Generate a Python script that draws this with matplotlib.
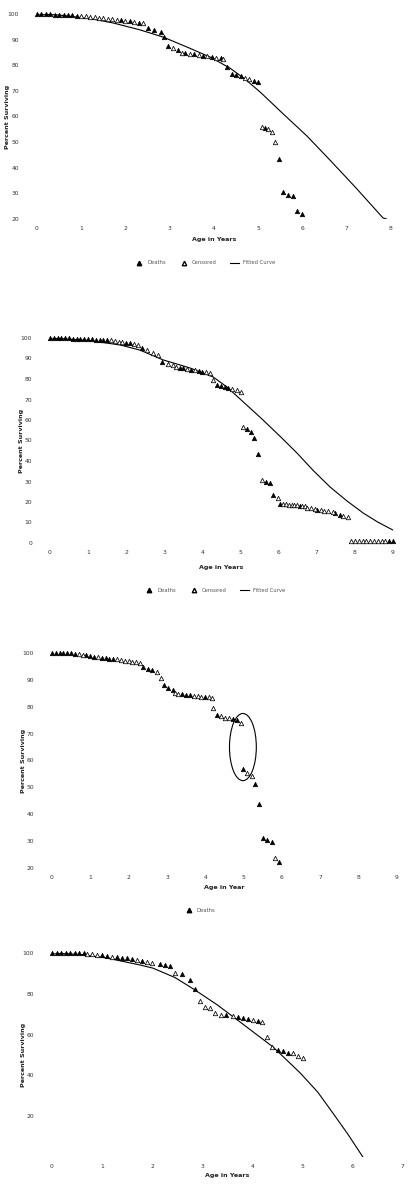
import matplotlib
matplotlib.use('Agg')
import matplotlib.pyplot as plt
from matplotlib.lines import Line2D
from matplotlib.patches import Ellipse

W, H = 410, 1185

# ---- panel 1 ----
p1_fill_x = [0.0, 0.1, 0.2, 0.3, 0.4, 0.5, 0.6, 0.7, 0.8, 0.9, 1.9, 2.1, 2.3, 2.5, 2.65, 2.8,
             2.87, 2.96, 3.19, 3.35, 3.55, 3.75, 3.95, 4.15, 4.29, 4.41, 4.5, 4.6, 4.9, 4.99,
             5.15, 5.47, 5.56, 5.67, 5.79, 5.88, 5.99]
p1_fill_y = [100, 100, 100, 99.9, 99.8, 99.8, 99.7, 99.6, 99.5, 99.4, 97.6, 97.2, 96.6, 94.5, 93.8, 93.0,
             91.0, 87.6, 86.0, 84.6, 84.3, 83.8, 83.3, 82.8, 79.3, 76.6, 76.2, 75.8, 74.0, 73.3,
             55.5, 43.4, 30.5, 29.2, 29.0, 23.1, 22.0]
p1_open_x = [1.0, 1.1, 1.2, 1.3, 1.4, 1.5, 1.6, 1.7, 1.8, 2.0, 2.2, 2.4, 3.07, 3.28, 3.45, 3.65,
             3.85, 4.05, 4.2, 4.7, 4.8, 5.08, 5.23, 5.31, 5.38]
p1_open_y = [99.3, 99.1, 98.9, 98.7, 98.5, 98.3, 98.1, 97.9, 97.7, 97.4, 96.9, 96.3, 86.7, 84.8, 84.5, 84.0,
             83.6, 83.0, 82.6, 75.2, 74.8, 56.0, 55.0, 54.0, 50.0]
p1_line_x = [0, 0.5, 0.9, 1.3, 1.72, 2.33, 2.85, 3.39, 3.91, 4.36, 4.7, 5.04, 5.54, 6.1, 6.62, 7.2, 7.82, 7.9]
p1_line_y = [100, 99.6, 98.8, 97.9, 96.5, 93.8, 91.0, 87.1, 83.2, 78.9, 74.6, 69.6, 61.4, 52.4, 43.0, 32.3, 20.4, 20]

# ---- panel 2 ----
p2_fill_x = [0.0, 0.1, 0.2, 0.3, 0.4, 0.5, 0.6, 0.7, 0.8, 0.9, 1.0, 1.1, 1.2, 1.3, 1.4, 1.5,
             2.0, 2.1, 2.41, 2.94, 3.4, 3.5, 3.7, 3.9, 4.0, 4.38, 4.48, 4.58, 4.68,
             5.17, 5.27, 5.35, 5.46, 5.66, 5.77, 5.85, 6.04, 6.55, 7.0, 7.48, 7.6, 8.9, 9.0]
p2_fill_y = [100, 100, 100, 99.9, 99.9, 99.8, 99.7, 99.6, 99.6, 99.5, 99.4, 99.3, 99.2, 99.1, 99.0, 99.0,
             97.8, 97.5, 95.1, 88.3, 85.6, 85.3, 84.6, 83.8, 83.6, 77.1, 76.7, 76.2, 75.8,
             55.5, 54.0, 51.2, 43.4, 29.9, 29.3, 23.4, 19.0, 18.2, 16.2, 14.6, 13.9, 1.0, 1.0]
p2_open_x = [1.6, 1.7, 1.8, 1.9, 2.2, 2.3, 2.55, 2.69, 2.83, 3.1, 3.23, 3.3, 3.6, 3.8, 4.1, 4.2,
             4.28, 4.78, 4.9, 5.0, 5.07, 5.56, 5.98, 6.12, 6.2, 6.27, 6.34, 6.41, 6.48, 6.62, 6.69,
             6.75, 6.85, 6.95, 7.1, 7.2, 7.3, 7.43, 7.7, 7.82,
             7.9, 8.0, 8.1, 8.2, 8.3, 8.4, 8.5, 8.6, 8.7, 8.8]
p2_open_y = [98.8, 98.5, 98.2, 98.0, 97.2, 96.8, 94.0, 92.8, 91.7, 87.3, 86.8, 85.9, 84.9, 84.2, 83.2, 82.9,
             79.5, 75.0, 74.4, 73.7, 56.5, 30.7, 22.0, 18.9, 18.8, 18.7, 18.6, 18.5, 18.4, 18.1, 18.0,
             17.1, 16.9, 16.6, 16.0, 15.8, 15.5, 15.1, 13.2, 12.7,
             1.0, 1.0, 1.0, 1.0, 1.0, 1.0, 1.0, 1.0, 1.0, 1.0]
p2_line_x = [0, 1.0, 1.84, 2.36, 2.97, 3.67, 4.28, 4.65, 4.99, 5.59, 6.05, 6.48, 6.9, 7.35, 7.8, 8.22, 8.6, 9.0]
p2_line_y = [100, 98.8, 96.6, 94.1, 89.3, 85.4, 81.0, 76.0, 70.2, 60.0, 51.8, 43.9, 35.5, 27.3, 20.4, 14.6, 10.2, 6.3]

# ---- panel 3 ----
p3_fill_x = [0.0, 0.1, 0.2, 0.3, 0.4, 0.5, 0.6, 0.9, 1.0, 1.1, 1.3, 1.4, 1.5, 1.6,
             2.37, 2.5, 2.62, 2.92, 3.03, 3.16, 3.4, 3.5, 3.6, 4.0, 4.3, 4.72, 4.83,
             4.98, 5.3, 5.4, 5.5, 5.62, 5.74, 5.92]
p3_fill_y = [100, 100, 100, 100, 99.9, 99.9, 99.8, 99.2, 98.9, 98.6, 98.3, 98.1, 97.9, 97.7,
             94.8, 94.2, 93.6, 88.1, 87.0, 86.2, 84.7, 84.5, 84.3, 83.7, 76.9, 75.4, 75.1,
             56.8, 51.3, 43.8, 31.2, 30.3, 29.7, 22.3]
p3_open_x = [0.7, 0.8, 1.2, 1.7, 1.8, 1.9, 2.0, 2.1, 2.2, 2.3, 2.74, 2.84, 3.2, 3.3, 3.7, 3.8,
             3.9, 4.1, 4.17, 4.2, 4.42, 4.52, 4.62, 4.93, 5.1, 5.22, 5.82]
p3_open_y = [99.6, 99.4, 98.4, 97.6, 97.4, 97.2, 97.0, 96.8, 96.5, 96.3, 93.0, 90.7, 85.1, 84.9, 84.1, 84.0,
             83.8, 83.5, 83.3, 79.5, 76.4, 76.0, 75.7, 74.0, 55.5, 54.2, 23.7]
p3_ring = dict(x=4.98, y=65.0, w=0.70, h=25.0)

# ---- panel 4 ----
p4_fill_x = [0.0, 0.09, 0.18, 0.27, 0.36, 0.45, 0.54, 0.63, 1.0, 1.1, 1.3, 1.4, 1.5, 1.6, 1.8,
             2.15, 2.25, 2.35, 2.6, 2.75, 2.85, 3.48, 3.7, 3.8, 3.9, 4.1, 4.5, 4.6, 4.7]
p4_fill_y = [100, 100, 100, 100, 99.9, 99.9, 99.8, 99.8, 98.9, 98.3, 97.9, 97.7, 97.4, 97.0, 96.2,
             94.6, 94.3, 93.6, 89.5, 86.8, 82.4, 69.6, 68.6, 68.1, 67.6, 66.7, 52.5, 51.8, 51.2]
p4_open_x = [0.7, 0.8, 0.9, 1.2, 1.7, 1.9, 2.0, 2.45, 2.95, 3.05, 3.15, 3.25, 3.37, 3.6, 4.0,
             4.19, 4.29, 4.39, 4.8, 4.9, 5.0]
p4_open_y = [99.6, 99.4, 99.2, 98.1, 96.6, 95.6, 95.0, 90.2, 76.5, 73.5, 72.8, 70.6, 69.8, 69.2, 67.2,
             66.3, 58.8, 53.9, 51.0, 49.5, 48.5]
p4_line_x = [0, 0.6, 1.10, 1.76, 2.01, 2.45, 2.85, 3.3, 3.75, 4.41, 4.95, 5.3, 5.60, 5.9, 6.20]
p4_line_y = [100, 99.2, 97.5, 94.1, 92.6, 88.0, 81.9, 74.5, 66.2, 53.9, 41.2, 31.8, 21.6, 11.2, 0]

legend_labels = ['Deaths', 'Censored', 'Fitted Curve']

fig = plt.figure(figsize=(W / 100, H / 100), dpi=100)
fs_tick = 4.3
fs_lab = 4.6


def make_axes(left, top, right, bottom):
    # pixel box -> figure fractions
    return fig.add_axes([left / W, 1 - bottom / H, (right - left) / W, (bottom - top) / H])


def style(ax, xmax, yticks, ylo, xlab_px_below, xlabel='Age in Years'):
    ax.set_xlim(0, xmax)
    ax.set_ylim(ylo, 100)
    ax.set_xticks(range(0, xmax + 1))
    ax.set_yticks(yticks)
    ax.tick_params(length=0, labelsize=fs_tick, colors='#333333')
    ax.tick_params(axis='x', pad=5)
    ax.tick_params(axis='y', pad=13)
    for s in ax.spines.values():
        s.set_visible(False)
    ax.set_xlabel(xlabel, fontsize=fs_lab, fontweight='bold', color='#222222')
    ax.set_ylabel('Percent Surviving', fontsize=fs_lab, fontweight='bold', color='#222222')
    ax.xaxis.set_label_coords(0.5, -xlab_px_below)
    ax.yaxis.set_label_coords(-0.075, 0.5)


def pts(ax, fx, fy, ox, oy):
    ax.plot(fx, fy, ls='none', marker='^', ms=3.2, mfc='black', mec='black', mew=0.5, clip_on=False)
    ax.plot(ox, oy, ls='none', marker='^', ms=3.2, mfc='white', mec='black', mew=0.55, clip_on=False)


def add_legend(ax, cx, cy, n=3):
    handles = [Line2D([], [], ls='none', marker='^', ms=3.2, mfc='black', mec='black'),
               Line2D([], [], ls='none', marker='^', ms=3.2, mfc='white', mec='black'),
               Line2D([], [], color='black', lw=0.8)][:n]
    ax.legend(handles, legend_labels[:n], loc='center', bbox_to_anchor=(cx / W, 1 - cy / H),
              bbox_transform=fig.transFigure, ncol=n, frameon=False, fontsize=3.8,
              handlelength=1.6, columnspacing=2.5, labelcolor='#555555')


# panel 1
ax1 = make_axes(37, 14, 391, 219)
ax1.plot(p1_line_x, p1_line_y, color='black', lw=0.8)
pts(ax1, p1_fill_x, p1_fill_y, p1_open_x, p1_open_y)
style(ax1, 8, list(range(20, 101, 10)), 20, 0.09)
add_legend(ax1, 205, 263)

# panel 2
ax2 = make_axes(50, 338, 393, 543)
ax2.plot(p2_line_x, p2_line_y, color='black', lw=0.8)
pts(ax2, p2_fill_x, p2_fill_y, p2_open_x, p2_open_y)
style(ax2, 9, list(range(0, 101, 10)), 0, 0.105)
add_legend(ax2, 215, 590)

# panel 3
ax3 = make_axes(52, 653, 397, 868)
pts(ax3, p3_fill_x, p3_fill_y, p3_open_x, p3_open_y)
ax3.add_patch(Ellipse((p3_ring['x'], p3_ring['y']), p3_ring['w'], p3_ring['h'],
                      fill=False, ec='black', lw=0.8))
style(ax3, 9, list(range(20, 101, 10)), 20, 0.08, xlabel='Age in Year')
add_legend(ax3, 200, 910, n=1)

# panel 4
ax4 = make_axes(52, 953, 403, 1157)
ax4.plot(p4_line_x, p4_line_y, color='black', lw=0.8)
pts(ax4, p4_fill_x, p4_fill_y, p4_open_x, p4_open_y)
style(ax4, 7, [20, 40, 60, 80, 100], 0, 0.08)

fig.savefig('out.png', dpi=100)
